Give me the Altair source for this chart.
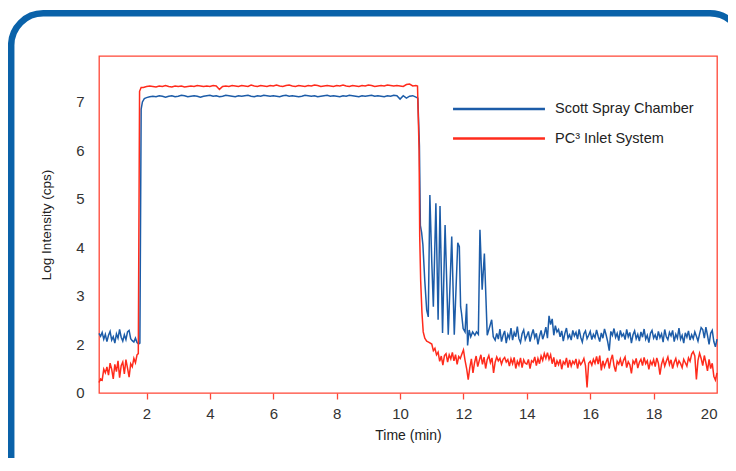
import altair as alt
import pandas as pd

BLUE_NAME = "Scott Spray Chamber"
RED_NAME = "PC\u00b3 Inlet System"
BLUE = "#1c5ca8"
RED = "#ff2b1c"
FRAME = "#0a62a9"
BORDER = "#ff4636"

x_ticks = [2, 4, 6, 8, 10, 12, 14, 16, 18, 20]
y_ticks = [0, 2, 3, 4, 5, 6, 7]


def grid(a, b, step):
    n = int(round((b - a) / step))
    return [round(a + i * step, 2) for i in range(n + 1)]


# ---------------- Scott Spray Chamber (blue) ----------------
blue_pre = [2.22, 2.16, 2.24, 2.10, 2.20, 2.05, 2.18, 2.26, 2.08, 2.15, 2.02, 2.21, 2.12,
            2.30, 2.14, 2.06, 2.19, 2.09, 2.25, 2.28, 2.11, 2.07, 2.04, 2.12, 2.03, 2.00]
blue_rise_t = [1.79, 1.83, 1.87, 1.93]
blue_rise_v = [2.02, 6.85, 7.00, 7.07]
blue_plateau = [
    7.09, 7.11, 7.12, 7.11, 7.13, 7.12, 7.10, 7.12, 7.13, 7.11,
    7.12, 7.14, 7.13, 7.11, 7.12, 7.13, 7.12, 7.10, 7.12, 7.13,
    7.14, 7.12, 7.13, 7.11, 7.12, 7.14, 7.13, 7.12, 7.11, 7.13,
    7.12, 7.13, 7.14, 7.12, 7.11, 7.13, 7.12, 7.14, 7.13, 7.12,
    7.13, 7.12, 7.11, 7.13, 7.14, 7.12, 7.13, 7.12, 7.11, 7.12,
    7.14, 7.13, 7.12, 7.13, 7.11, 7.12, 7.13, 7.14, 7.12, 7.13,
    7.12, 7.11, 7.13, 7.12, 7.14, 7.13, 7.12, 7.11, 7.13, 7.12,
    7.13, 7.14, 7.12, 7.13, 7.12, 7.11, 7.13, 7.12, 7.14, 7.13,
    7.06, 7.13, 7.08, 7.12, 7.13, 7.10]
blue_spike_t = [10.56, 10.61, 10.64, 10.68, 10.72, 10.78, 10.84, 10.89, 10.94, 11.00,
                11.05, 11.13, 11.20, 11.26, 11.34, 11.42, 11.52, 11.63, 11.71, 11.82,
                11.87, 11.91, 11.94, 11.99, 12.05, 12.10, 12.13, 12.18, 12.23, 12.29,
                12.36, 12.41, 12.47, 12.52, 12.59, 12.66, 12.75, 12.83, 12.89, 12.94,
                13.00]
blue_spike_v = [7.08, 6.10, 4.45, 4.30, 4.05, 3.30, 2.70, 2.56, 5.08, 3.70,
                2.77, 4.91, 2.50, 4.85, 2.23, 4.46, 2.19, 4.22, 2.19, 4.09,
                4.01, 2.77, 2.63, 2.32, 2.25, 2.83, 1.94, 2.29, 2.15, 2.25,
                2.18, 2.25, 2.20, 4.36, 3.12, 3.87, 2.18, 2.36, 2.50, 2.15,
                2.08]
blue_tail = [
    2.22, 2.10, 2.31, 2.05, 2.18, 2.27, 2.02, 2.20, 2.12, 2.33,
    2.08, 2.24, 2.15, 2.36, 2.11, 2.03, 2.21, 2.29, 2.09, 2.17,
    2.26, 2.05, 2.19, 2.30, 2.13, 2.22, 1.98, 2.16, 2.28, 2.10,
    2.20, 2.35, 2.12, 2.58, 2.40, 2.52, 2.18, 2.38, 2.25, 2.30,
    2.15, 2.27, 2.06, 2.22, 2.33, 2.12, 2.19, 2.08, 2.28, 2.17,
    2.24, 2.10, 2.30, 2.14, 2.04, 2.21, 2.27, 2.11, 2.18, 2.26,
    2.09, 2.20, 2.13, 2.29, 2.16, 2.05, 2.23, 2.12, 2.31, 2.19,
    2.05, 1.72, 2.26, 2.18, 2.32, 2.14, 2.22, 2.07, 2.28, 2.16,
    2.21, 2.09, 2.30, 2.15, 2.24, 2.02, 2.19, 2.27, 2.11, 2.20,
    2.06, 2.25, 2.14, 2.31, 2.10, 2.18, 2.03, 2.22, 2.28, 2.12,
    2.19, 2.08, 2.26, 2.13, 2.21, 2.04, 2.30, 2.15, 2.09, 2.24,
    2.17, 2.28, 2.05, 2.20, 2.12, 2.33, 2.10, 2.18, 2.02, 2.23,
    2.14, 2.27, 2.08, 2.19, 2.11, 2.25, 2.16, 2.06, 2.21, 2.34,
    2.30, 2.12, 2.35, 2.18, 1.98, 2.22, 2.28, 2.05, 1.88, 2.10]

blue_t = grid(0.50, 1.75, 0.05) + blue_rise_t + grid(2.0, 10.5, 0.1) + blue_spike_t + grid(13.05, 20.0, 0.05)
blue_v = blue_pre + blue_rise_v + blue_plateau + blue_spike_v + blue_tail

# ---------------- PC3 Inlet System (red) ----------------
red_pre = [0.40, 0.55, 0.50, 0.95, 0.80, 1.05, 0.70, 1.20, 0.95, 0.55, 1.15, 0.85, 1.30,
           0.60, 1.10, 1.25, 0.75, 1.35, 1.00, 0.62, 1.18, 1.05, 1.40, 1.22, 1.55]
red_rise_t = [1.74, 1.78, 1.83]
red_rise_v = [1.60, 7.22, 7.30]
red_plateau = [
    7.30, 7.32, 7.33, 7.32, 7.31, 7.33, 7.32, 7.34, 7.32, 7.31,
    7.33, 7.32, 7.33, 7.31, 7.32, 7.33, 7.32, 7.34, 7.33, 7.32,
    7.33, 7.32, 7.34, 7.33, 7.26, 7.32, 7.33, 7.32, 7.34, 7.33,
    7.32, 7.34, 7.33, 7.32, 7.35, 7.33, 7.32, 7.34, 7.33, 7.32,
    7.34, 7.33, 7.35, 7.33, 7.32, 7.34, 7.35, 7.33, 7.32, 7.34,
    7.33, 7.32, 7.34, 7.33, 7.35, 7.34, 7.32, 7.33, 7.34, 7.33,
    7.32, 7.34, 7.33, 7.35, 7.33, 7.32, 7.34, 7.33, 7.32, 7.34,
    7.33, 7.35, 7.34, 7.32, 7.33, 7.34, 7.33, 7.35, 7.34, 7.33,
    7.34, 7.33, 7.32, 7.36, 7.37, 7.33, 7.34]
red_fall_t = [10.55, 10.60, 10.62, 10.65, 10.69, 10.73, 10.78, 10.84, 10.90]
red_fall_v = [7.33, 6.00, 4.20, 3.30, 2.65, 2.25, 2.12, 2.06, 2.04]
red_tail = [
    2.00, 1.72, 1.82, 1.55, 1.66, 1.28, 1.50, 1.12, 1.52, 1.60,
    1.25, 1.55, 1.38, 1.65, 1.30, 1.56, 1.15, 1.48, 1.40, 1.58,
    1.75, 1.32, 0.98, 0.52, 1.02, 1.38, 0.80, 1.22, 1.50, 1.06,
    1.32, 1.55, 1.15, 1.45, 0.98, 1.36, 1.52, 1.22, 1.42, 0.80,
    1.24, 1.46, 1.30, 1.40, 1.16, 1.36, 1.44, 1.25, 1.35, 1.08,
    1.38, 1.18, 1.44, 0.98, 1.28, 1.12, 1.42, 1.02, 1.34, 1.20,
    1.16, 1.36, 0.98, 1.30, 1.24, 1.46, 1.10, 1.40, 1.18, 1.50,
    1.32, 1.60, 1.40, 1.64, 1.36, 1.55, 1.18, 1.44, 1.05, 1.30,
    1.14, 1.36, 0.95, 1.26, 1.16, 1.42, 1.02, 1.34, 1.08, 1.28,
    1.18, 1.38, 0.98, 1.30, 1.14, 1.24, 1.40, 1.10, 0.19, 1.20,
    1.28, 1.12, 1.36, 1.20, 1.48, 1.16, 1.52, 0.90, 1.30, 1.05,
    1.24, 1.42, 0.98, 1.34, 1.55, 1.10, 0.85, 1.28, 1.16, 1.38,
    1.08, 1.32, 1.46, 1.02, 1.26, 1.14, 0.78, 1.30, 1.18, 1.40,
    1.00, 1.24, 1.36, 1.10, 1.44, 1.18, 1.30, 0.94, 1.28, 1.14,
    1.35, 1.06, 1.42, 1.20, 0.72, 1.16, 1.38, 1.08, 1.28, 1.46,
    1.14, 1.34, 0.98, 1.24, 1.40, 1.10, 1.30, 1.18, 1.02, 1.36,
    1.22, 1.08, 1.42, 1.28, 1.58, 1.68, 1.50, 0.52, 1.32, 1.62,
    1.40, 1.10, 1.52, 1.22, 0.88, 1.36, 0.98, 1.20, 0.66, 0.50,
    0.80]

red_t = grid(0.50, 1.70, 0.05) + red_rise_t + grid(1.9, 10.5, 0.1) + red_fall_t + grid(11.0, 20.0, 0.05)
red_v = red_pre + red_rise_v + red_plateau + red_fall_v + red_tail

df = pd.concat([
    pd.DataFrame({"t": blue_t, "v": blue_v, "series": BLUE_NAME}),
    pd.DataFrame({"t": red_t, "v": red_v, "series": RED_NAME}),
], ignore_index=True)

W, H = 618, 337

frame = alt.Chart(alt.Data(values=[{"k": 1}])).mark_rect(
    fill="white", fillOpacity=0, stroke=FRAME, strokeWidth=6.5, cornerRadius=32
).encode(
    x=alt.value(-87.8), x2=alt.value(643), y=alt.value(-42.7), y2=alt.value(440)
)

lines = alt.Chart(df).mark_line(strokeWidth=1.5).encode(
    x=alt.X("t:Q",
            scale=alt.Scale(domain=[0.5, 20], nice=False, zero=False),
            axis=alt.Axis(values=x_ticks, title="Time (min)", grid=False, domain=False,
                          tickColor={"condition": {"test": "datum.value >= 20", "value": "transparent"},
                                     "value": BORDER},
                          tickSize=6, tickWidth=1.3, labelFontSize=15, labelColor="#333",
                          labelPadding=7, labelFlush=True,
                          titleFontSize=14, titleFontWeight="normal", titleColor="#222",
                          titleY=42, titleBaseline="middle")),
    y=alt.Y("v:Q",
            scale=alt.Scale(domain=[-0.04, 2, 7.95], range=[H, 288, 0], nice=False, zero=False),
            axis=alt.Axis(values=y_ticks, title="Log Intensity (cps)", grid=False, domain=False,
                          ticks=False, labelFontSize=15, labelColor="#333", labelPadding=15,
                          labelFlush=False,
                          titleFontSize=13.5, titleFontWeight="normal", titleColor="#222",
                          titleX=-53, titleBaseline="middle")),
    color=alt.Color("series:N",
                    scale=alt.Scale(domain=[BLUE_NAME, RED_NAME], range=[BLUE, RED]),
                    legend=alt.Legend(orient="none", legendX=389.5, legendY=42.5, title=None,
                                      symbolType="M-5,0L5,0", symbolSize=338,
                                      symbolStrokeWidth=2.5, labelOffset=45.5,
                                      labelFontSize=14.5, labelColor="#222", rowPadding=12.5,
                                      padding=0)),
)

chart = alt.layer(frame, lines).properties(
    width=W, height=H,
    padding={"left": 91, "top": 48, "right": 11, "bottom": 65},
    autosize=alt.AutoSizeParams(type="none"),
).configure(font="Liberation Sans").configure_view(stroke=BORDER, strokeWidth=1.3)

chart.save("out.html", embed_options={"renderer": "svg", "actions": False})
